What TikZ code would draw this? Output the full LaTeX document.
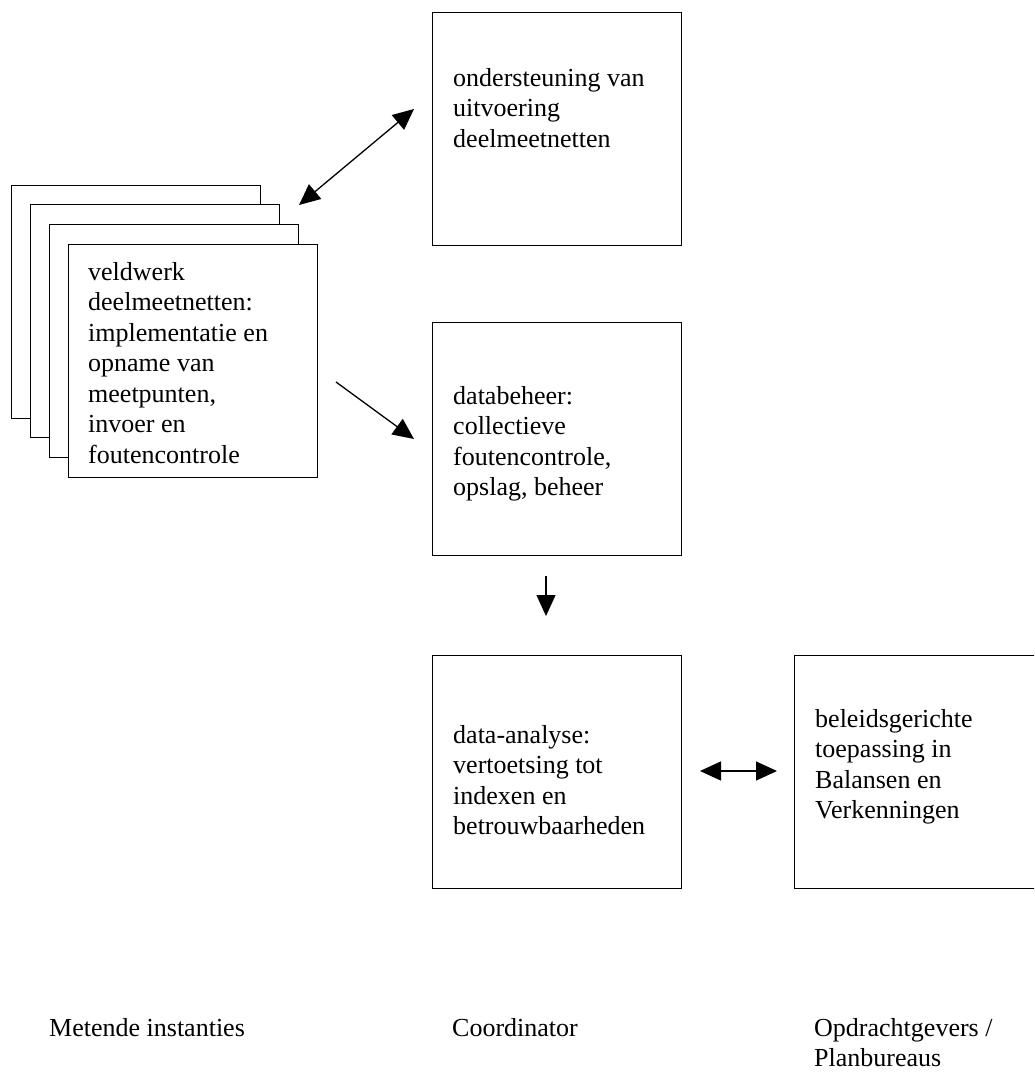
\documentclass[tikz,border=0pt]{standalone}
\usepackage{fontspec}
\setmainfont{Liberation Serif}
\usetikzlibrary{arrows.meta}
\begin{document}
\begin{tikzpicture}[x=1pt,y=-1pt,
  box/.style={draw, line width=1.3pt, fill=white, inner sep=0pt, anchor=north west,
              minimum width=249pt, minimum height=#1},
  box/.default=233pt,
  txt/.style={anchor=north west, inner sep=0pt, align=left,
              font=\fontsize{26}{30.5}\selectfont},
  arr/.style={line width=1.3pt, -{Triangle[length=21pt,width=19pt]}},
  darr/.style={line width=1.3pt, {Triangle[length=21pt,width=19pt]}-{Triangle[length=21pt,width=19pt]}}]
\useasboundingbox (0,0) rectangle (1034,1073);
\clip (0,0) rectangle (1034,1073);

% stacked field-work boxes
\node[box] (s1) at (11,185) {};
\node[box] (s2) at (30,204) {};
\node[box] (s3) at (49,224) {};
\node[box] (s4) at (68,244) {};
\node[txt] (t4) at (88,262) {veldwerk\\deelmeetnetten:\\implementatie en\\opname van\\meetpunten,\\invoer en\\foutencontrole};

% coordinator boxes
\node[box] (b1) at (432,12) {};
\node[txt] (t1) at (453,68) {ondersteuning van\\uitvoering\\deelmeetnetten};

\node[box] (b2) at (432,322) {};
\node[txt] (t2) at (453,386) {databeheer:\\collectieve\\foutencontrole,\\opslag, beheer};

\node[box] (b3) at (432,655) {};
\node[txt] (t3) at (453,725) {data-analyse:\\vertoetsing tot\\indexen en\\betrouwbaarheden};

% client box (cut at right edge)
\node[box, minimum width=300pt] (b4) at (794,655) {};
\node[txt] (t5) at (815,709) {beleidsgerichte\\toepassing in\\Balansen en\\Verkenningen};

% column labels
\node[txt] (l1) at (49,1018) {Metende instanties};
\node[txt] (l2) at (452,1018) {Coordinator};
\node[txt] (l3) at (814,1018) {Opdrachtgevers /\\Planbureaus};

% connector end points
\coordinate (a1s) at (299,205);
\coordinate (a1e) at (414,109);
\coordinate (a2s) at (336,382);
\coordinate (a2e) at (414,439);
\coordinate (a3s) at (546,576);
\coordinate (a3e) at (546,616);
\coordinate (a4s) at (700,771);
\coordinate (a4e) at (777,771);

\draw[darr] (a1s) -- (a1e);
\draw[arr] (a2s) -- (a2e);
\draw[arr] (a3s) -- (a3e);
\draw[darr] (a4s) -- (a4e);
\end{tikzpicture}
\end{document}
